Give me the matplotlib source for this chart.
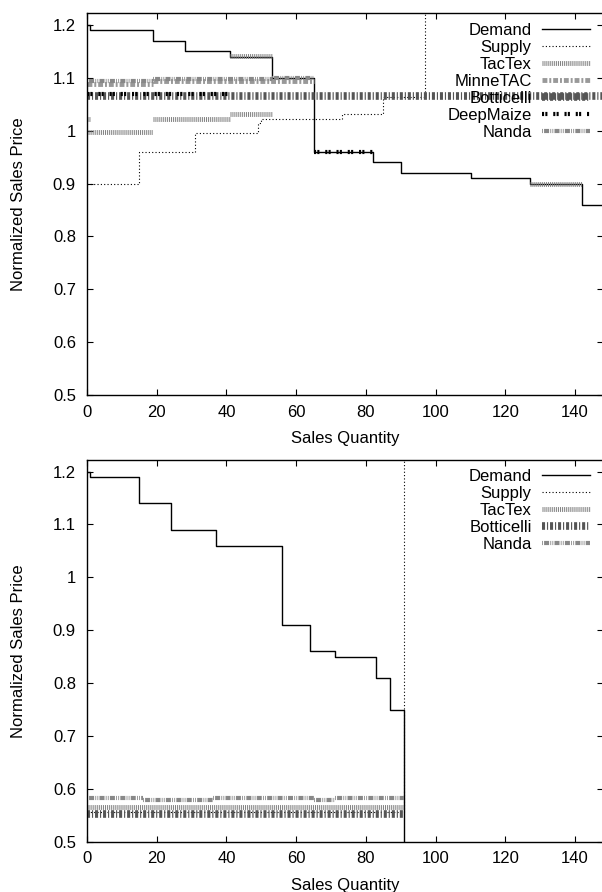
import matplotlib
matplotlib.use("Agg")
import matplotlib.pyplot as plt
import numpy as np

plt.rcParams["font.family"] = ["Liberation Sans", "DejaVu Sans"]
plt.rcParams["font.size"] = 12

# ---- top game ----
demand_top_q = [0, 1, 19, 28, 41, 53, 65, 82, 90, 110, 127, 142, 148]
demand_top_p = [1.20, 1.19, 1.17, 1.15, 1.14, 1.10, 0.96, 0.94, 0.92, 0.91, 0.90, 0.86, 0.86]
supply_top_q = [0, 15, 31, 49, 50, 73, 85, 97, 97]
supply_top_p = [0.90, 0.96, 0.995, 1.014, 1.022, 1.032, 1.063, 1.063, 1.30]

# agent offers: (start quantity, end quantity, price)
tactex_top_start = [0, 0, 19, 41, 41, 127]
tactex_top_end = [1, 19, 41, 53, 53, 142]
tactex_top_price = [1.022, 0.997, 1.022, 1.032, 1.141, 0.900]
minnetac_top_start = [0, 19]
minnetac_top_end = [19, 65]
minnetac_top_price = [1.089, 1.094]
botticelli_top_start = [0]
botticelli_top_end = [148]
botticelli_top_price = [1.065]
deepmaize_top_start = [0, 65]
deepmaize_top_end = [41, 82]
deepmaize_top_price = [1.069, 0.96]
nanda_top_start = [0, 19, 53]
nanda_top_end = [19, 53, 65]
nanda_top_price = [1.093, 1.097, 1.100]

# ---- bottom game ----
demand_bot_q = [0, 1, 15, 24, 37, 56, 64, 71, 83, 87, 91]
demand_bot_p = [1.20, 1.19, 1.14, 1.09, 1.06, 0.91, 0.86, 0.85, 0.81, 0.75, 0.40]
supply_bot_q = [0, 91]
supply_bot_p = [0.556, 1.30]
tactex_bot_start = [0]
tactex_bot_end = [91]
tactex_bot_price = [0.566]
botticelli_bot_start = [0]
botticelli_bot_end = [91]
botticelli_bot_price = [0.553]
nanda_bot_start = [0, 16, 36, 65, 71]
nanda_bot_end = [16, 36, 65, 71, 91]
nanda_bot_price = [0.582, 0.578, 0.582, 0.578, 0.582]

styles = {
    "Demand": dict(color="black", lw=1.0),
    "Supply": dict(color="black", lw=0.8, dashes=(1, 2)),
    "TacTex": dict(color="#808080", lw=3.5, dashes=(0.2, 0.2)),
    "MinneTAC": dict(color="#999999", lw=3.5, dashes=(1.0, 0.4, 0.4, 0.4)),
    "Botticelli": dict(color="#555555", lw=5.5, dashes=(0.4, 0.25, 0.15, 0.25)),
    "DeepMaize": dict(color="black", lw=3.0, dashes=(0.5, 0.3, 0.5, 1.4)),
    "Nanda": dict(color="#888888", lw=3.0, dashes=(0.2, 0.3, 1.2, 0.3, 0.2, 0.3)),
}


def segments(starts, ends, prices):
    x, y = [], []
    for a, b, p in zip(starts, ends, prices):
        x += [a, b, np.nan]
        y += [p, p, np.nan]
    return x, y


fig = plt.figure(figsize=(6.02, 8.92), dpi=100)
W, H = 602.0, 892.0
ax1 = fig.add_axes([87 / W, 1 - 395 / H, 516 / W, 381.7 / H])
ax2 = fig.add_axes([87 / W, 1 - 841.7 / H, 516 / W, 381.7 / H])

panels = [
    (ax1, (demand_top_q, demand_top_p), (supply_top_q, supply_top_p), [
        ("TacTex", tactex_top_start, tactex_top_end, tactex_top_price),
        ("MinneTAC", minnetac_top_start, minnetac_top_end, minnetac_top_price),
        ("Botticelli", botticelli_top_start, botticelli_top_end, botticelli_top_price),
        ("DeepMaize", deepmaize_top_start, deepmaize_top_end, deepmaize_top_price),
        ("Nanda", nanda_top_start, nanda_top_end, nanda_top_price),
    ], 23),
    (ax2, (demand_bot_q, demand_bot_p), (supply_bot_q, supply_bot_p), [
        ("TacTex", tactex_bot_start, tactex_bot_end, tactex_bot_price),
        ("Botticelli", botticelli_bot_start, botticelli_bot_end, botticelli_bot_price),
        ("Nanda", nanda_bot_start, nanda_bot_end, nanda_bot_price),
    ], 469),
]

for ax, dem, sup, agents, legend_top in panels:
    ax.step(dem[0], dem[1], where="post", label="Demand", **styles["Demand"])
    ax.step(sup[0], sup[1], where="post", label="Supply", **styles["Supply"])
    for name, s, e, p in agents:
        x, y = segments(s, e, p)
        ax.plot(x, y, label=name, solid_capstyle="butt", dash_capstyle="butt", **styles[name])

    ax.set_xlim(0, 148)
    ax.set_ylim(0.5, 1.222)
    ax.set_xticks(range(0, 141, 20))
    ax.set_yticks([0.5, 0.6, 0.7, 0.8, 0.9, 1.0, 1.1, 1.2])
    ax.set_yticklabels(["0.5", "0.6", "0.7", "0.8", "0.9", "1", "1.1", "1.2"])
    ax.tick_params(direction="in", top=True, right=True, length=4.5, width=0.8,
                   labelsize=12)
    ax.tick_params(axis="x", pad=7)
    ax.tick_params(axis="y", pad=8)
    ax.spines["right"].set_visible(False)
    for sp in ("left", "bottom", "top"):
        ax.spines[sp].set_linewidth(1.0)
    ax.set_xlabel("Sales Quantity", fontsize=12, labelpad=8)
    ax.set_ylabel("Normalized Sales Price", fontsize=12, labelpad=19)

    ax.legend(loc="upper right", bbox_to_anchor=(590 / W, 1 - legend_top / H),
              bbox_transform=fig.transFigure, markerfirst=False, frameon=False,
              handlelength=2.9, handletextpad=0.6, labelspacing=0.12,
              borderpad=0, borderaxespad=0, fontsize=12)

fig.savefig("out.png", dpi=100)
